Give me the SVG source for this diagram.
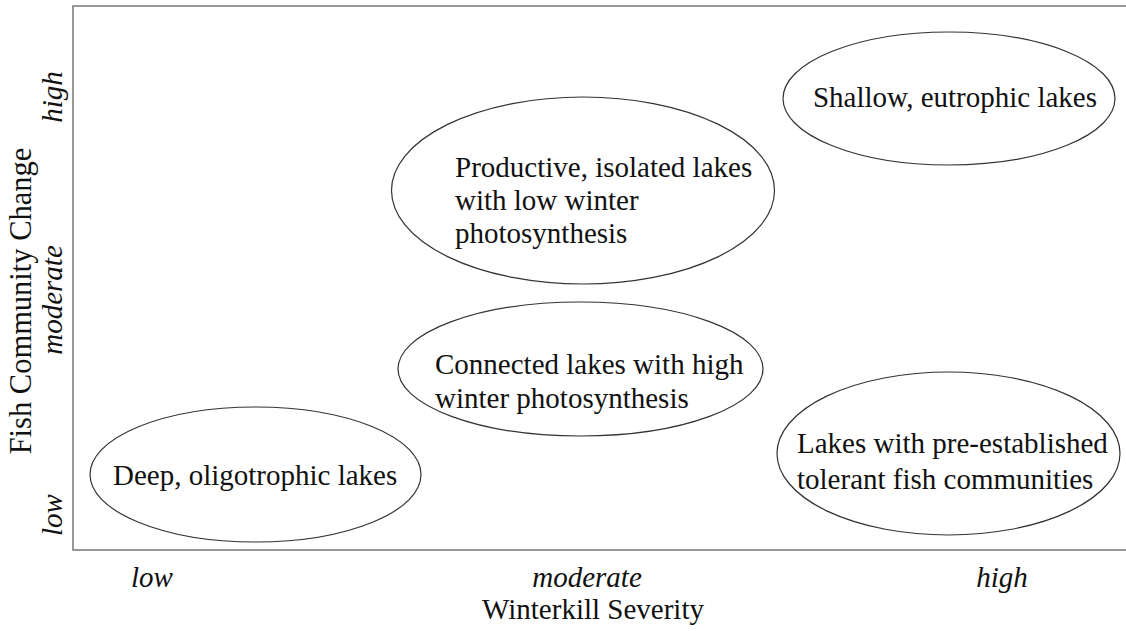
<svg xmlns="http://www.w3.org/2000/svg" width="1126" height="631" viewBox="0 0 1126 631">
<style>
.t{font-family:"Liberation Serif","Times New Roman",serif;font-size:29px;fill:#111}
.i{font-family:"Liberation Serif","Times New Roman",serif;font-size:29px;font-style:italic;fill:#111}
.e{fill:none;stroke:#333;stroke-width:1.2}
.ax{fill:none;stroke:#777;stroke-width:1.5}
</style>
<rect width="1126" height="631" fill="#fff"/>
<g id="frame">
<path class="ax" d="M1126 6 H73 V550 H1126"/>
</g>
<g id="axis-labels">
<text class="i" x="152" y="587" text-anchor="middle">low</text>
<text class="i" x="587" y="587" text-anchor="middle">moderate</text>
<text class="i" x="1002" y="587" text-anchor="middle">high</text>
<text class="t" x="593" y="619" text-anchor="middle">Winterkill Severity</text>
<text class="i" transform="translate(62 97) rotate(-90)" text-anchor="middle">high</text>
<text class="i" transform="translate(62 300) rotate(-90)" text-anchor="middle">moderate</text>
<text class="i" transform="translate(62 515) rotate(-90)" text-anchor="middle">low</text>
<text class="t" transform="translate(31 301) rotate(-90)" text-anchor="middle" style="font-size:30.5px">Fish Community Change</text>
</g>
<g id="shallow">
<ellipse class="e" cx="949" cy="98.5" rx="166" ry="66.5"/>
<text class="t" x="955" y="107" text-anchor="middle">Shallow, eutrophic lakes</text>
</g>
<g id="productive">
<ellipse class="e" cx="583" cy="190.5" rx="191.5" ry="93.5"/>
<text class="t" x="455" y="177">Productive, isolated lakes</text>
<text class="t" x="455" y="210">with low winter</text>
<text class="t" x="455" y="243">photosynthesis</text>
</g>
<g id="connected">
<ellipse class="e" cx="580.5" cy="369" rx="182.5" ry="67"/>
<text class="t" x="435" y="374">Connected lakes with high</text>
<text class="t" x="435" y="408">winter photosynthesis</text>
</g>
<g id="tolerant">
<ellipse class="e" cx="948.5" cy="453.5" rx="171.5" ry="81.5"/>
<text class="t" x="797" y="453">Lakes with pre-established</text>
<text class="t" x="797" y="489">tolerant fish communities</text>
</g>
<g id="deep">
<ellipse class="e" cx="255.5" cy="474.5" rx="165.5" ry="67.5"/>
<text class="t" x="113" y="485">Deep, oligotrophic lakes</text>
</g>
<g id="connectors"/>
</svg>
